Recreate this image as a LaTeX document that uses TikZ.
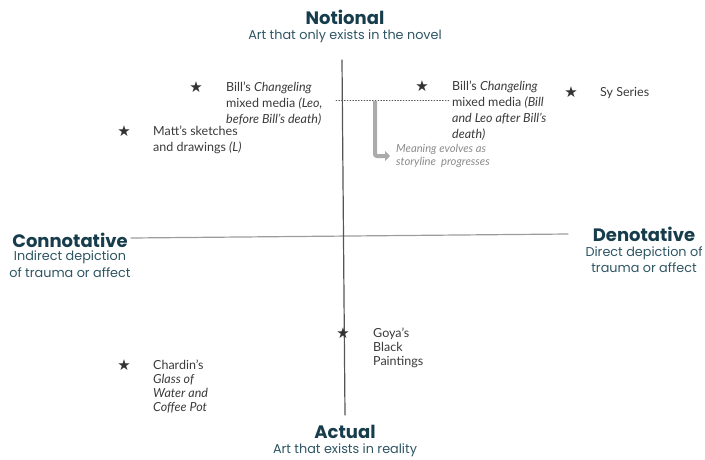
\documentclass[tikz,border=0pt]{standalone}
\usepackage{fontspec}
\setmainfont{Lato}
\newfontfamily\headfont{Poppins}
\newfontfamily\symfont{DejaVu Sans}
\usetikzlibrary{arrows.meta}
\definecolor{axisdark}{HTML}{555555}
\definecolor{axislight}{HTML}{9C9C9C}
\definecolor{heading}{HTML}{173D4C}
\definecolor{subhead}{HTML}{2E5563}
\definecolor{worktext}{HTML}{3A3A3A}
\definecolor{note}{HTML}{8A8A8A}
\definecolor{bendgrey}{HTML}{ABABAB}

\begin{document}
\begin{tikzpicture}[x=1pt,y=-1pt,line cap=round,
  pole/.style={font=\headfont\bfseries\fontsize{18}{20}\selectfont,text=heading,inner sep=0},
  polenote/.style={font=\headfont\fontsize{12.8}{16.5}\selectfont,text=subhead,inner sep=0,align=center},
  starmark/.style={font=\symfont\fontsize{15}{15}\selectfont,text=black!80,inner sep=0},
  work/.style={anchor=north west,align=left,font=\fontsize{12.5}{16}\selectfont,text=worktext,inner sep=0}]
  \useasboundingbox (0,0) rectangle (705,459);

  % axes
  \coordinate (left) at (131,238);
  \coordinate (right) at (568,234);
  \coordinate (top) at (342,60);
  \coordinate (bottom) at (345,415);
  \draw[axislight,line width=1.2pt] (left) -- (right);
  \draw[axisdark,line width=1.2pt] (top) -- (bottom);

  % poles
  \node[pole] (notional) at (345,17) {Notional};
  \node[polenote] (notionalsub) at (345,36) {Art that only exists in the novel};
  \node[pole] (actual) at (345,432) {Actual};
  \node[polenote] (actualsub) at (345,450) {Art that exists in reality};
  \node[pole] (conno) at (70,240) {Connotative};
  \node[polenote] (connosub) at (70,264) {Indirect depiction\\of trauma or affect};
  \node[pole] (deno) at (644,234) {Denotative};
  \node[polenote] (denosub) at (644,259.5) {Direct depiction of\\trauma or affect};

  % works
  \node[starmark] (s1) at (196,87) {★};
  \node[work] (billleo) at (226,82) {Bill's \textit{Changeling}\\mixed media \textit{(Leo,}\\\textit{before Bill's death)}};
  \node[starmark] (s2) at (124,131) {★};
  \node[work] (matt) at (153,126) {Matt's sketches\\and drawings \textit{(L)}};
  \node[starmark] (s3) at (422,86) {★};
  \node[work] (billafter) at (452,81) {Bill's \textit{Changeling}\\mixed media \textit{(Bill}\\\textit{and Leo after Bill's}\\\textit{death)}};
  \node[starmark] (s4) at (571,92) {★};
  \node[work] (sy) at (600,87) {Sy Series};
  \node[starmark] (s5) at (343,333) {★};
  \node[work,font=\fontsize{12.5}{14}\selectfont] (goya) at (373,328) {Goya's\\Black\\Paintings};
  \node[starmark] (s6) at (124,365) {★};
  \node[work,font=\fontsize{12.5}{14}\selectfont] (chardin) at (153,360) {Chardin's\\\textit{Glass of}\\\textit{Water and}\\\textit{Coffee Pot}};

  % change over the storyline
  \coordinate (dotstart) at (336,100);
  \coordinate (dotend) at (450,100);
  \draw[axisdark,dotted,line width=0.8pt] (dotstart) -- (dotend);
  \coordinate (bendtop) at (375,101);
  \coordinate (bendtip) at (390,156);
  \draw[bendgrey,line width=4pt,line cap=butt,rounded corners=2pt,-{Triangle[length=5pt,width=10pt]}] (bendtop) |- (bendtip);
  \node[work,font=\itshape\fontsize{11.2}{13}\selectfont,text=note] (meaning) at (396,144) {Meaning evolves as\\storyline\ \ progresses};
\end{tikzpicture}
\end{document}
